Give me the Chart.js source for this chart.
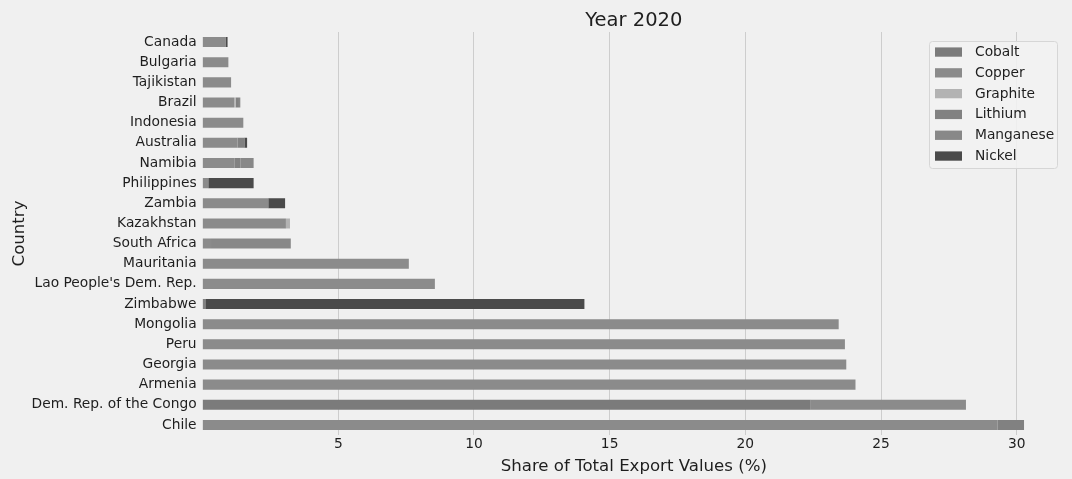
<!DOCTYPE html>
<html><head><meta charset="utf-8">
<script src="https://cdn.jsdelivr.net/npm/chart.js@4.4.0/dist/chart.umd.min.js"></script>
<style>html,body{margin:0;padding:0;background:#f0f0f0;} canvas{display:block;}</style>
</head><body>
<canvas id="c" width="1072" height="479"></canvas>
<script>
const countries = ["Canada","Bulgaria","Tajikistan","Brazil","Indonesia","Australia","Namibia","Philippines","Zambia","Kazakhstan","South Africa","Mauritania","Lao People's Dem. Rep.","Zimbabwe","Mongolia","Peru","Georgia","Armenia","Dem. Rep. of the Congo","Chile"];
const seriesNames = ["Cobalt","Copper","Graphite","Lithium","Manganese","Nickel"];
const cobalt    = [0,0,0,0,0,0,0,0,0,0,0,0,0,0,0,0,0,0,22.41,0];
const copper    = [0.86,0.95,1.05,1.16,1.50,1.29,1.17,0.21,2.42,3.07,0.31,7.60,8.56,0,23.44,23.67,23.72,24.06,5.72,29.30];
const graphite  = [0,0,0,0.06,0,0,0,0,0,0.15,0,0,0,0,0,0,0,0,0,0];
const lithium   = [0,0,0,0.12,0,0.25,0.23,0,0,0,0,0,0,0.10,0,0,0,0,0,0.97];
const manganese = [0,0,0,0.05,0,0,0.48,0,0,0,2.94,0,0,0,0,0,0,0,0,0];
const nickel    = [0.06,0,0,0,0,0.10,0,1.67,0.62,0,0,0,0,13.97,0,0,0,0,0,0];
const xTickValues = [5,10,15,20,25,30];
const chartTitle = "Year 2020";
const xTitle = "Share of Total Export Values (%)";
const yTitle = "Country";

const seriesValues = [cobalt, copper, graphite, lithium, manganese, nickel];
const seriesColors = ["#7b7b7b","#8b8b8b","#b3b3b3","#818181","#888888","#4a4a4a"];
const FAM = "DejaVu Sans";
const TXT = "#1e1e1e";

const titlePlugin = {
  id: 'ttl',
  afterDraw(chart) {
    const c = chart.ctx, a = chart.chartArea;
    c.save();
    c.font = "19.5px '" + FAM + "'";
    c.fillStyle = TXT;
    c.textAlign = 'center';
    c.textBaseline = 'middle';
    c.fillText(chartTitle, (a.left + a.right) / 2, 20.5);
    c.restore();
  }
};

const legendPlugin = {
  id: 'lgd',
  afterDraw(chart) {
    const c = chart.ctx, a = chart.chartArea;
    const ds = chart.data.datasets;
    const w = 128, rowH = 20.8;
    const h = 127;
    const x0 = a.right - 8 - w, y0 = a.top + 9;
    c.save();
    c.beginPath();
    if (c.roundRect) c.roundRect(x0 + 0.5, y0 + 0.5, w, h, 3); else c.rect(x0 + 0.5, y0 + 0.5, w, h);
    c.fillStyle = 'rgba(242,242,242,0.85)';
    c.fill();
    c.strokeStyle = '#d6d6d6';
    c.lineWidth = 1;
    c.stroke();
    c.font = "13.8px '" + FAM + "'";
    c.textBaseline = 'middle';
    c.textAlign = 'left';
    ds.forEach((d, i) => {
      const cy = y0 + 11 + i * rowH;
      c.fillStyle = d.backgroundColor;
      c.fillRect(x0 + 6, cy - 4.6, 27, 9.3);
      c.fillStyle = TXT;
      c.fillText(d.label, x0 + 46, cy + 0.5);
    });
    c.restore();
  }
};

new Chart(document.getElementById('c').getContext('2d'), {
  type: 'bar',
  data: {
    labels: countries,
    datasets: seriesNames.map((n, i) => ({
      label: n,
      data: seriesValues[i],
      backgroundColor: seriesColors[i],
      borderWidth: 0,
      barPercentage: 0.5,
      categoryPercentage: 1.0
    }))
  },
  options: {
    indexAxis: 'y',
    responsive: false,
    animation: false,
    devicePixelRatio: 1,
    layout: { padding: { top: 32, right: 7, bottom: 0, left: 0 } },
    plugins: { legend: { display: false }, title: { display: false }, tooltip: { enabled: false } },
    scales: {
      x: {
        stacked: true, min: 0, max: 31.78, position: 'bottom',
        afterBuildTicks: s => { s.ticks = xTickValues.map(v => ({ value: v })); },
        afterFit: s => { s.height = 44; },
        grid: { color: '#cdcdcd', lineWidth: 1, drawTicks: false },
        border: { display: false },
        ticks: { padding: 1, color: TXT, font: { family: FAM, size: 13.8 }, maxRotation: 0 },
        title: { display: true, text: xTitle, color: TXT, font: { family: FAM, size: 16.6 }, padding: { top: 0, bottom: 2 } }
      },
      y: {
        stacked: true,
        afterFit: s => { s.width = 202.6; },
        grid: { display: false, drawTicks: false },
        border: { display: false },
        ticks: { padding: 6, color: TXT, font: { family: FAM, size: 13.8 }, autoSkip: false },
        title: { display: true, text: yTitle, color: TXT, font: { family: FAM, size: 16.6 }, padding: { top: 10, bottom: 0 } }
      }
    }
  },
  plugins: [titlePlugin, legendPlugin]
});
</script>
</body></html>
